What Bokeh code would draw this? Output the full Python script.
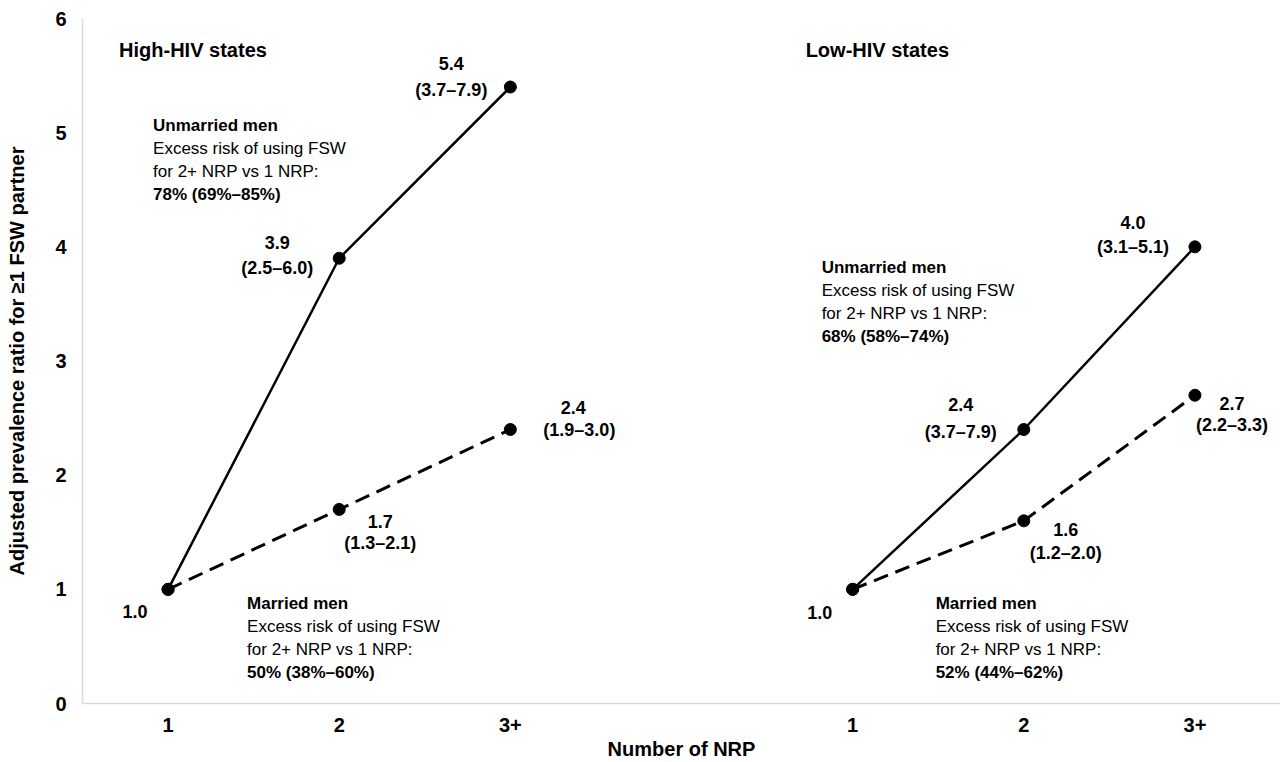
from bokeh.plotting import figure
from bokeh.models import FactorRange, Range1d, ColumnDataSource
from bokeh.core.properties import value
from bokeh.embed import file_html
from bokeh.resources import INLINE

FONT = "Liberation Sans"

# ---------------- data ----------------
groups = ["High", "Low"]
nrp = ["1", "2", "3+"]
y_ticks = [0, 1, 2, 3, 4, 5, 6]

high_unmarried = [1.0, 3.9, 5.4]
high_married = [1.0, 1.7, 2.4]
low_unmarried = [1.0, 2.4, 4.0]
low_married = [1.0, 1.6, 2.7]

high_unmarried_ci = ["", "(2.5–6.0)", "(3.7–7.9)"]
high_married_ci = ["", "(1.3–2.1)", "(1.9–3.0)"]
low_unmarried_ci = ["", "(3.7–7.9)", "(3.1–5.1)"]
low_married_ci = ["", "(1.2–2.0)", "(2.2–3.3)"]

panel_titles = ["High-HIV states", "Low-HIV states"]
unmarried_excess = ["78% (69%–85%)", "68% (58%–74%)"]
married_excess = ["50% (38%–60%)", "52% (44%–62%)"]
excess_lines = ["Excess risk of using FSW", "for 2+ NRP vs 1 NRP:"]

# ---------------- styles / label placement (pixels) ----------------
# (dx, dy_value, dy_ci) per point, dy positive = up
offsets = {
    ("High", "unm"): [(-33, -22, None), (-62, 16, -10), (-59, 24, -3)],
    ("High", "mar"): [None, (41, -12, -34), (63, 22, 0)],
    ("Low", "unm"): [(-33, -23, None), (-63, 25, -2), (-62, 24, 0)],
    ("Low", "mar"): [None, (42, -9, -32), (37, -8, -30)],
}
block_pos = {  # (anchor y in data units, x offset from first category)
    ("High", "title"): (5.72, -49),
    ("Low", "title"): (5.72, -47),
    ("High", "unm"): (5.06, -15),
    ("Low", "unm"): (3.82, -31),
    ("High", "mar"): (0.876, 79),
    ("Low", "mar"): (0.876, 83),
}
LINE_STEP = 23

factors = [(g, n) for g in groups for n in nrp]
xr = FactorRange(factors=factors, group_padding=1.0)

p = figure(x_range=xr, y_range=Range1d(0, 6), width=1280, height=762,
           output_backend="svg", toolbar_location=None,
           min_border_left=82, min_border_right=0, min_border_top=18,
           min_border_bottom=59)
p.outline_line_color = None
p.xgrid.visible = False
p.ygrid.visible = False

for ax in (p.xaxis, p.yaxis):
    ax.axis_line_color = "#d9d9d9"
    ax.axis_line_width = 1.5
    ax.major_tick_line_color = None
    ax.minor_tick_line_color = None
    ax.major_tick_out = 0
    ax.major_tick_in = 0
    ax.minor_tick_out = 0
    ax.minor_tick_in = 0
    ax.major_label_text_font = FONT
    ax.major_label_text_font_style = "bold"
    ax.major_label_text_font_size = "20px"
    ax.major_label_text_color = "black"
    ax.axis_label_text_font = FONT
    ax.axis_label_text_font_style = "bold"
    ax.axis_label_text_font_size = "20px"
    ax.axis_label_text_color = "black"

# y axis
p.yaxis.ticker = y_ticks
p.yaxis.major_label_standoff = 16
p.yaxis.axis_label = "Adjusted prevalence ratio for ≥1 FSW partner"
p.yaxis.axis_label_standoff = 24

# x axis
p.xaxis.major_label_standoff = 14
p.xaxis.group_text_font_size = "0px"
p.xaxis.group_text_alpha = 0
p.xaxis.separator_line_color = None
p.xaxis.axis_label = "Number of NRP"
p.xaxis.axis_label_standoff = 3

series = {
    "High": (high_unmarried, high_unmarried_ci, high_married, high_married_ci),
    "Low": (low_unmarried, low_unmarried_ci, low_married, low_married_ci),
}

rows = dict(x=[], y=[], text=[], dx=[], dy=[], style=[], size=[], align=[])


def add_text(x, y, text, dx, dy, bold=True, size="18px", align="center"):
    rows["x"].append(x)
    rows["y"].append(y)
    rows["text"].append(text)
    rows["dx"].append(dx)
    rows["dy"].append(-dy)  # glyph offsets: positive = down
    rows["style"].append("bold" if bold else "normal")
    rows["size"].append(size)
    rows["align"].append(align)


for gi, g in enumerate(groups):
    unm, unm_ci, mar, mar_ci = series[g]
    xs = [(g, n) for n in nrp]
    p.line(xs, unm, line_color="black", line_width=2.5)
    p.line(xs, mar, line_color="black", line_width=3, line_dash="15 8")
    p.scatter(xs, mar, size=12, color="black")
    p.scatter(xs, unm, size=12, color="black")

    for key, vals, cis in (("unm", unm, unm_ci), ("mar", mar, mar_ci)):
        for i, (x, v, ci) in enumerate(zip(xs, vals, cis)):
            off = offsets[(g, key)][i]
            if off is None:
                continue
            dx, dyv, dyc = off
            add_text(x, v, f"{v:.1f}", dx, dyv)
            if dyc is not None and ci:
                extra = 6 if (g == "High" and key == "mar" and i == 2) else 0
                add_text(x, v, ci, dx + extra, dyc)

    ty, tdx = block_pos[(g, "title")]
    add_text(xs[0], ty, panel_titles[gi], tdx, 0, bold=True, size="20px", align="left")

    by, bdx = block_pos[(g, "unm")]
    lines = [("Unmarried men", True)] + [(t, False) for t in excess_lines] + [(unmarried_excess[gi], True)]
    for li, (t, b) in enumerate(lines):
        add_text(xs[0], by, t, bdx, -LINE_STEP * li, bold=b, size="17px", align="left")

    my, mdx = block_pos[(g, "mar")]
    lines = [("Married men", True)] + [(t, False) for t in excess_lines] + [(married_excess[gi], True)]
    for li, (t, b) in enumerate(lines):
        add_text(xs[0], my, t, mdx, -LINE_STEP * li, bold=b, size="17px", align="left")

src = ColumnDataSource(rows)
p.text(x="x", y="y", text="text", x_offset="dx", y_offset="dy", source=src,
       text_font=value(FONT), text_font_size="size", text_font_style="style",
       text_align="align", text_baseline="middle", text_color="black")

open("out.html", "w").write(file_html(p, INLINE))
